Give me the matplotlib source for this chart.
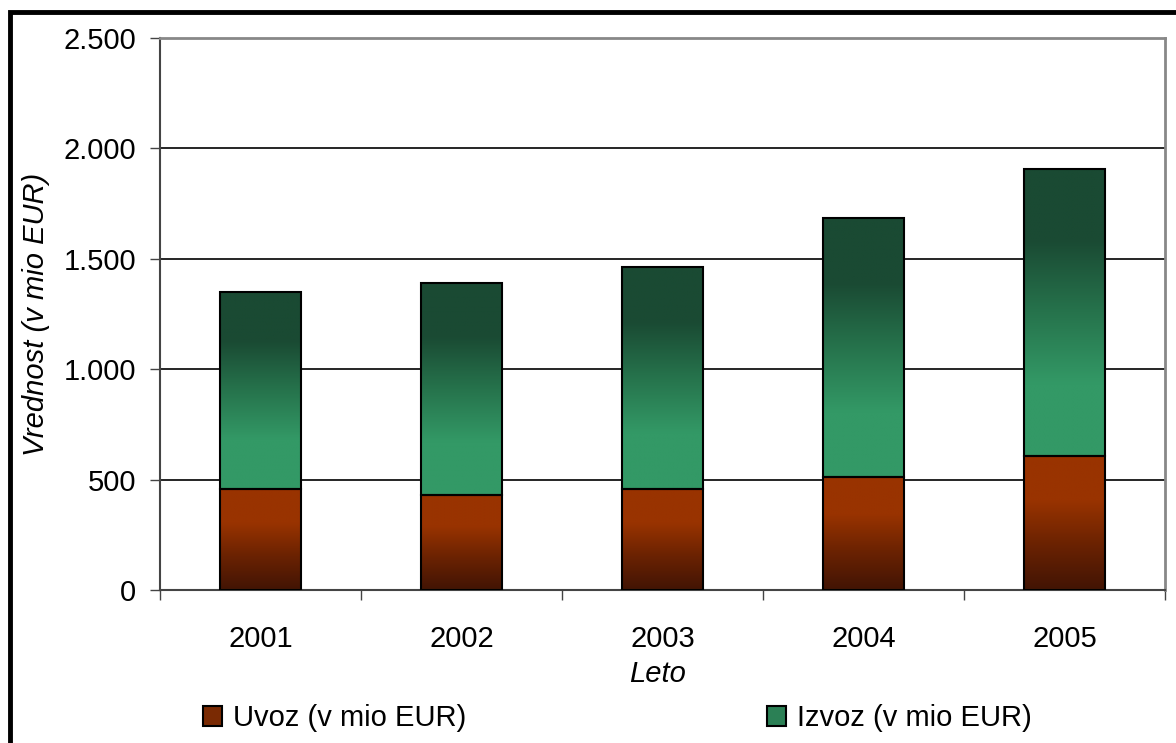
import numpy as np
import matplotlib
matplotlib.use("Agg")
import matplotlib.pyplot as plt
from matplotlib.patches import Rectangle
from matplotlib.colors import LinearSegmentedColormap
from matplotlib.ticker import FuncFormatter, FixedLocator

plt.rcParams['font.family'] = ['Liberation Sans', 'DejaVu Sans']

leta = ['2001', '2002', '2003', '2004', '2005']
uvoz = [457, 432, 457, 513, 608]
izvoz = [894, 958, 1006, 1173, 1300]

# barvni prelivi (spodaj -> zgoraj)
cm_uvoz = LinearSegmentedColormap.from_list('uvoz', ['#421404', '#6a2202', '#993300', '#993300'])
cm_izvoz = LinearSegmentedColormap.from_list('izvoz', ['#339966', '#339966', '#26734c', '#1a4a33', '#1a4a33'])


def gradient_bar(ax, bar, cmap):
    x, y = bar.get_x(), bar.get_y()
    w, h = bar.get_width(), bar.get_height()
    grad = np.linspace(0, 1, 256).reshape(-1, 1)
    im = ax.imshow(grad, cmap=cmap, origin='lower', aspect='auto',
                   extent=(x, x + w, y, y + h), zorder=2, interpolation='bilinear')
    im.set_clip_path(bar)
    bar.set_facecolor('none')
    bar.set_zorder(3)


fig = plt.figure(figsize=(11.76, 7.43), dpi=100)
ax = fig.add_axes([160/1176, 1 - 590/743, 1005/1176, 552/743])

x = np.arange(len(leta))
b1 = ax.bar(x, uvoz, width=0.4, edgecolor='black', linewidth=1.5)
b2 = ax.bar(x, izvoz, width=0.4, bottom=uvoz, edgecolor='black', linewidth=1.5)
for b in b1:
    gradient_bar(ax, b, cm_uvoz)
for b in b2:
    gradient_bar(ax, b, cm_izvoz)

ax.set_xlim(-0.5, 4.5)
ax.set_ylim(0, 2500)
ax.set_yticks(np.arange(0, 2501, 500))
ax.yaxis.set_major_formatter(FuncFormatter(lambda v, p: f'{int(v):,}'.replace(',', '.')))
ax.grid(axis='y', color='black', linewidth=1.2, zorder=0)
ax.set_axisbelow(True)

ax.set_xticks(x)
ax.set_xticklabels(leta)
ax.xaxis.set_minor_locator(FixedLocator(np.arange(-0.5, 5, 1)))
ax.tick_params(axis='x', which='major', length=0, pad=25, labelsize=21)
ax.tick_params(axis='x', which='minor', length=7, width=1, color='#444444', direction='out')
ax.tick_params(axis='y', length=7, width=1, color='#444444', direction='out', pad=10, labelsize=21)

for s in ['top', 'right']:
    ax.spines[s].set_color('#888888')
    ax.spines[s].set_linewidth(2)
for s in ['left', 'bottom']:
    ax.spines[s].set_color('#444444')
    ax.spines[s].set_linewidth(1.5)

ax.set_xlabel('Leto', fontsize=21, style='italic')
ax.xaxis.label.set_va('center')
ax.xaxis.set_label_coords((658 - 160) / 1005, -(674 - 590) / 552)
ax.set_ylabel('Vrednost (v mio EUR)', fontsize=21, style='italic')
ax.yaxis.label.set_va('center')
ax.yaxis.set_label_coords(-(160 - 36) / 1005, 0.5)

handles = [Rectangle((0, 0), 1, 1, facecolor='#7a2a03', edgecolor='black', linewidth=1.5),
           Rectangle((0, 0), 1, 1, facecolor='#2b8055', edgecolor='black', linewidth=1.5)]
fig.legend(handles, ['Uvoz (v mio EUR)', 'Izvoz (v mio EUR)'], ncol=2,
           loc='center left', bbox_to_anchor=(203/1176, 1 - 718/743),
           frameon=False, fontsize=21, handlelength=0.65, handleheight=0.68,
           handletextpad=0.38, columnspacing=10.3, borderpad=0, borderaxespad=0)

# okvir slike
fig.patches.append(Rectangle((10/1176, -0.1), 1.2, 1 - 12/743 + 0.1, transform=fig.transFigure,
                             fill=False, edgecolor='black', linewidth=3.5, zorder=10))

fig.savefig('out.png', dpi=100)
